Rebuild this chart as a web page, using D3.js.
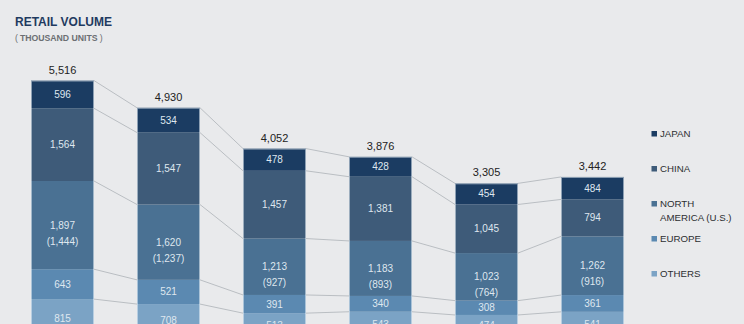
<!DOCTYPE html>
<html>
<head>
<meta charset="utf-8">
<script src="https://cdn.jsdelivr.net/npm/d3@7"></script>
<style>
  html, body { margin: 0; padding: 0; background: #e9eaec; }
  svg { display: block; font-family: "Liberation Sans", Arial, sans-serif; }
</style>
</head>
<body>
<svg id="chart" width="744" height="324"></svg>
<script>
// Retail volume by region, thousand units
const years = ["FY2018", "FY2019", "FY2020", "FY2021", "FY2022", "FY2023"];
const totals = [5516, 4930, 4052, 3876, 3305, 3442];
const japan = [596, 534, 478, 428, 454, 484];
const china = [1564, 1547, 1457, 1381, 1045, 794];
const northAmerica = [1897, 1620, 1213, 1183, 1023, 1262];
const unitedStates = [1444, 1237, 927, 893, 764, 916];
const europe = [643, 521, 391, 340, 308, 361];
const others = [815, 708, 513, 543, 474, 541];

const regionNames = ["JAPAN", "CHINA", "NORTH AMERICA (U.S.)", "EUROPE", "OTHERS"];
const regionColors = ["#1b3c62", "#3e5b79", "#4a7193", "#5b89b1", "#7ba3c5"];

// stacked from the bottom up: others, europe, north america, china, japan
const keys = ["others", "europe", "northAmerica", "china", "japan"];
const seriesByKey = { japan, china, northAmerica, europe, others };
const colorByKey = {
  japan: regionColors[0], china: regionColors[1], northAmerica: regionColors[2],
  europe: regionColors[3], others: regionColors[4]
};

const rows = years.map((yr, i) => {
  const r = { year: yr, total: totals[i], us: unitedStates[i] };
  keys.forEach(k => r[k] = seriesByKey[k][i]);
  return r;
});

const svg = d3.select("#chart");

const x = d3.scaleBand().domain(years).range([31, 624]).paddingInner(0.4057).paddingOuter(0);
const y = d3.scaleLinear().domain([0, 6000]).range([337, 58]);

const stacked = d3.stack().keys(keys)(rows);
const bw = x.bandwidth();

// connector lines between the tops of matching segments of adjacent bars
const connectors = svg.append("g").attr("stroke", "#adb2b7").attr("stroke-width", 0.8).attr("fill", "none");
stacked.forEach(layer => {
  for (let i = 0; i < layer.length - 1; i++) {
    connectors.append("line")
      .attr("x1", x(years[i]) + bw).attr("y1", y(layer[i][1]))
      .attr("x2", x(years[i + 1])).attr("y2", y(layer[i + 1][1]));
  }
});

// bar segments
const segs = svg.append("g");
stacked.forEach(layer => {
  segs.selectAll(null).data(layer).join("rect")
    .attr("x", d => x(d.data.year))
    .attr("y", d => y(d[1]))
    .attr("width", bw)
    .attr("height", d => y(d[0]) - y(d[1]))
    .attr("fill", colorByKey[layer.key]);
});

// light outline round each bar
svg.append("g").selectAll("rect").data(rows).join("rect")
  .attr("x", d => x(d.year) + 0.5)
  .attr("y", d => y(d.total) + 0.5)
  .attr("width", bw - 1)
  .attr("height", d => y(0) - y(d.total))
  .attr("fill", "none")
  .attr("stroke", "rgba(235,242,248,0.55)")
  .attr("stroke-width", 1);

// segment value labels
const fmt = d3.format(",");
const labels = svg.append("g").attr("fill", "#dfe7ef").attr("font-size", 10).attr("text-anchor", "middle");
stacked.forEach(layer => {
  layer.forEach(d => {
    const cx = x(d.data.year) + bw / 2;
    const cy = (y(d[0]) + y(d[1])) / 2;
    labels.append("text").attr("x", cx).attr("y", cy).attr("dy", "0.35em").text(fmt(d[1] - d[0]));
    if (layer.key === "northAmerica") {
      labels.append("text").attr("x", cx).attr("y", cy + 16).attr("dy", "0.35em").text("(" + fmt(d.data.us) + ")");
    }
  });
});

// totals above bars
svg.append("g").selectAll("text").data(rows).join("text")
  .attr("x", d => x(d.year) + bw / 2)
  .attr("y", d => y(d.total) - 7)
  .attr("text-anchor", "middle")
  .attr("font-size", 11)
  .attr("fill", "#222")
  .text(d => fmt(d.total));

// title
svg.append("text").attr("x", 15).attr("y", 26)
  .attr("font-size", 12).attr("font-weight", "bold").attr("fill", "#1f3a60")
  .text("RETAIL VOLUME");
const sub = svg.append("text").attr("x", 15).attr("y", 40.5)
  .attr("font-size", 8.7).attr("font-weight", "bold").attr("fill", "#6c6f73");
sub.append("tspan").attr("font-weight", "normal").text("(");
sub.append("tspan").attr("dx", 2).text("THOUSAND UNITS");
sub.append("tspan").attr("dx", 2).attr("font-weight", "normal").text(")");

// legend
const legendY = [134, 169, 204, 239, 274];
const legend = svg.append("g").attr("font-size", 9.7).attr("fill", "#2c2e31");
regionNames.forEach((name, i) => {
  legend.append("rect").attr("x", 651.5).attr("y", legendY[i] - 3).attr("width", 5.5).attr("height", 5.5)
    .attr("fill", regionColors[i]);
  const t = legend.append("text").attr("x", 660).attr("y", legendY[i]).attr("dy", "0.35em");
  if (name.startsWith("NORTH")) {
    t.append("tspan").attr("x", 660).text("NORTH");
    t.append("tspan").attr("x", 660).attr("dy", 13.7).text("AMERICA (U.S.)");
  } else {
    t.text(name);
  }
});
</script>
</body>
</html>
